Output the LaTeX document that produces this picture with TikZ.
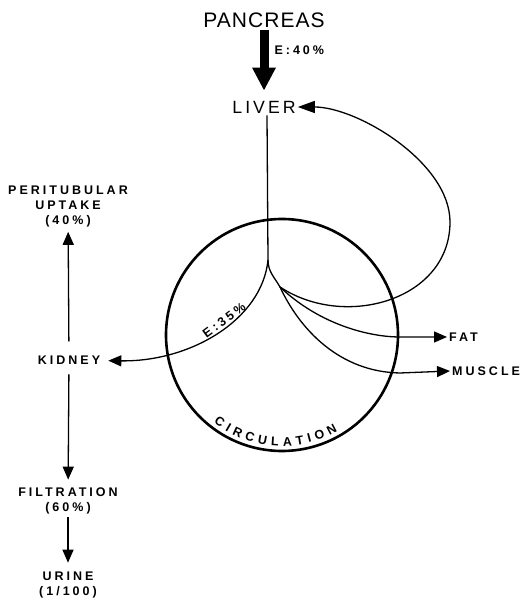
\documentclass[tikz,border=0pt]{standalone}
\usepackage{fontspec}
\setmainfont{Liberation Sans}
\newfontfamily\lblfont{Liberation Sans}[LetterSpace=24]
\usetikzlibrary{arrows.meta}
\usetikzlibrary{decorations.text}
\usetikzlibrary{positioning}

\begin{document}
\begin{tikzpicture}[x=1pt, y=1pt,
  lbl/.style={inner sep=2pt, align=center, font=\lblfont\bfseries\fontsize{12.5}{15}\selectfont},
  flow/.style={line width=1.3pt, -{Triangle[length=13pt, width=11pt]}},
  bigflow/.style={line width=9pt, -{Triangle[length=23pt, width=22pt]}},
  thin/.style={line width=1.3pt}]
\useasboundingbox (0,0) rectangle (522,601);

\node [inner sep=2pt, font=\fontsize{21}{21}\selectfont\addfontfeatures{LetterSpace=5}] (pancreas) at (264,581) {PANCREAS};
\node [inner sep=2pt, font=\fontsize{17.7}{18}\selectfont\addfontfeatures{LetterSpace=17}] (liver) at (264,494) {LIVER};
\node [lbl] (peri) at (68,394) {PERITUBULAR\\UPTAKE\\(40\%)};
\node [lbl] (kidney) at (69,241) {KIDNEY};
\node [lbl] (filt) at (68,100) {FILTRATION\\(60\%)};
\node [lbl] (urine) at (68,16) {URINE\\(1/100)};
\node [lbl, anchor=west] (fat) at (447,264) {FAT};
\node [lbl, anchor=west] (muscle) at (450,230) {MUSCLE};

\node [shape=circle, draw=black, line width=2.6pt, inner sep=0pt, minimum size=232pt] (circ) at (282,266) {};
\path [decorate, decoration={text along path, text align={fit to path},
  text={|\lblfont\bfseries\fontsize{12.5}{12}\selectfont|CIRCULATION}}]
  ([shift={(232:111)}]circ.center) arc [start angle=232, end angle=300, radius=111];

\coordinate (j1) at (268,341);
\coordinate (j2) at (280,314);
\coordinate (loopE) at (450,379);
\coordinate (fatbend) at (400,264);
\coordinate (musbend) at (400,228);

% pancreas to liver
\path [bigflow, shorten >=8pt] (pancreas) edge node [pos=0.3, right=4pt, lbl] {E:40\%} (liver);

% liver down into the circulation
\draw [thin] ([xshift=3pt]liver.south) -- (j1);
\draw [thin] (j1) to [out=-90, in=120] (j2);

% back to the liver
\draw [thin] (j2) .. controls (345,271) and (450,301) .. (loopE);
\draw [thin, -{Triangle[length=17pt, width=12pt]}] (loopE) to [out=90, in=0, looseness=0.8] (liver.east);

% periphery
\draw [flow] (j2) .. controls (320,276) and (370,264) .. (fatbend) -- (fat.west);
\draw [flow] (j2) .. controls (300,271) and (340,229) .. (musbend) -- (muscle.west);

% kidney
\draw [flow, shorten >=6pt] (j1) .. controls (262,281) and (190,239) ..
  node [pos=0.43, sloped, above, lbl, inner sep=1pt] {E:35\%} (kidney);
\path [flow, shorten <=12pt, shorten >=2pt] (kidney) edge (peri);
\path [flow, shorten <=8pt, shorten >=6pt] (kidney) edge (filt);
\path [flow, shorten <=1pt, shorten >=7pt] (filt) edge (urine);
\end{tikzpicture}
\end{document}
